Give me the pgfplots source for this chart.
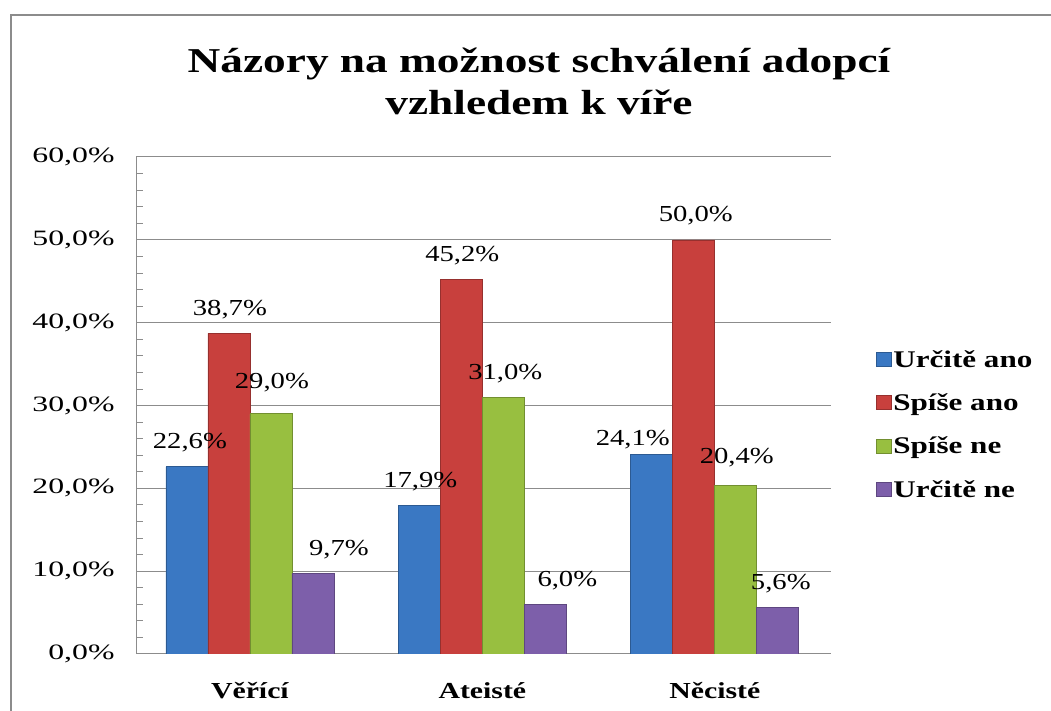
\documentclass[border=0pt]{standalone}
\usepackage{pgfplots}
\usepackage{pgfplotstable}
\pgfplotsset{compat=1.18}
\usepackage{fontspec}
\setmainfont{Liberation Serif}[FakeStretch=1.25]
\newfontfamily\widefont{Liberation Serif}[FakeStretch=1.3]
\newfontfamily\tickfont{Liberation Serif}[FakeStretch=1.45]
\definecolor{cBlue}{HTML}{3A78C3}
\definecolor{cRed}{HTML}{C8403D}
\definecolor{cGreen}{HTML}{98BF40}
\definecolor{cPurple}{HTML}{7D5FAA}
\definecolor{cGrid}{HTML}{8C8C8C}

\pgfplotstableread{
x y dx dy
0 22.6 3 0
1 17.9 1 0
2 24.1 -19 -9
}\tblA
\pgfplotstableread{
x y dx dy
0 38.7 1 0
1 45.2 1 0
2 50.0 2 0
}\tblB
\pgfplotstableread{
x y dx dy
0 29.0 1 7
1 31.0 2 0
2 20.4 1 3
}\tblC
\pgfplotstableread{
x y dx dy
0 9.7 26 0
1 6.0 22 0
2 5.6 3 0
}\tblD

\begin{document}
\begin{tikzpicture}
\path[use as bounding box] (0,0) rectangle (1051bp,711bp);
\draw[color=cGrid, line width=2.2bp] (11bp,0) -- (11bp,696bp) -- (1051bp,696bp);
\node[font=\fontsize{35}{40}\widefont\bfseries, anchor=base] at (539bp,638bp) {Názory na možnost schválení adopcí};
\node[font=\fontsize{35}{40}\widefont\bfseries, anchor=base] at (539bp,596bp) {vzhledem k víře};
\begin{axis}[
  at={(136bp,57bp)}, anchor=south west,
  scale only axis, width=695bp, height=497bp,
  /pgf/number format/assume math mode=true,
  ybar=0pt, bar width=42bp,
  ymin=0, ymax=60, xmin=-0.49, xmax=2.5,
  xtick={0,1,2}, xticklabels={Věřící, Ateisté, Něcisté},
  xticklabel style={font=\fontsize{23}{26}\widefont\bfseries, yshift=-25bp},
  ytick={0,10,...,60},
  yticklabel={\pgfmathprintnumber[fixed,fixed zerofill,precision=1,use comma]{\tick}\%},
  yticklabel style={font=\fontsize{22}{26}\tickfont, xshift=-18bp},
  minor y tick num=4,
  ymajorgrids, major grid style={cGrid, line width=1bp},
  axis x line*=bottom, axis y line*=left,
  axis line style={cGrid, line width=1bp, -},
  major tick length=0pt, minor tick length=7bp,
  minor tick style={cGrid, line width=0.8bp},
  tick align=inside,
  visualization depends on={\thisrow{dx}\as\dx},
  visualization depends on={\thisrow{dy}\as\dy},
  nodes near coords={\pgfmathprintnumber[fixed,fixed zerofill,precision=1,use comma]{\pgfplotspointmeta}\%},
  every node near coord/.append style={font=\fontsize{23}{26}\selectfont, anchor=south, xshift=\dx bp, yshift=11bp+\dy bp, text=black},
  legend style={at={(1.06,0.462)}, anchor=west, draw=none, fill=none,
    font=\fontsize{24}{27}\widefont\bfseries, row sep=21bp,
    legend cell align=left},
  legend image code/.code={\draw[#1, line width=0.5bp] (0bp,-7bp) rectangle (15bp,7bp);},
]
\addplot[draw=cBlue!75!black, line width=0.6bp, fill=cBlue] table[x=x,y=y] {\tblA};
\addplot[draw=cRed!75!black, line width=0.6bp, fill=cRed] table[x=x,y=y] {\tblB};
\addplot[draw=cGreen!75!black, line width=0.6bp, fill=cGreen] table[x=x,y=y] {\tblC};
\addplot[draw=cPurple!75!black, line width=0.6bp, fill=cPurple] table[x=x,y=y] {\tblD};
\legend{Určitě ano, Spíše ano, Spíše ne, Určitě ne}
\end{axis}
\end{tikzpicture}
\end{document}
